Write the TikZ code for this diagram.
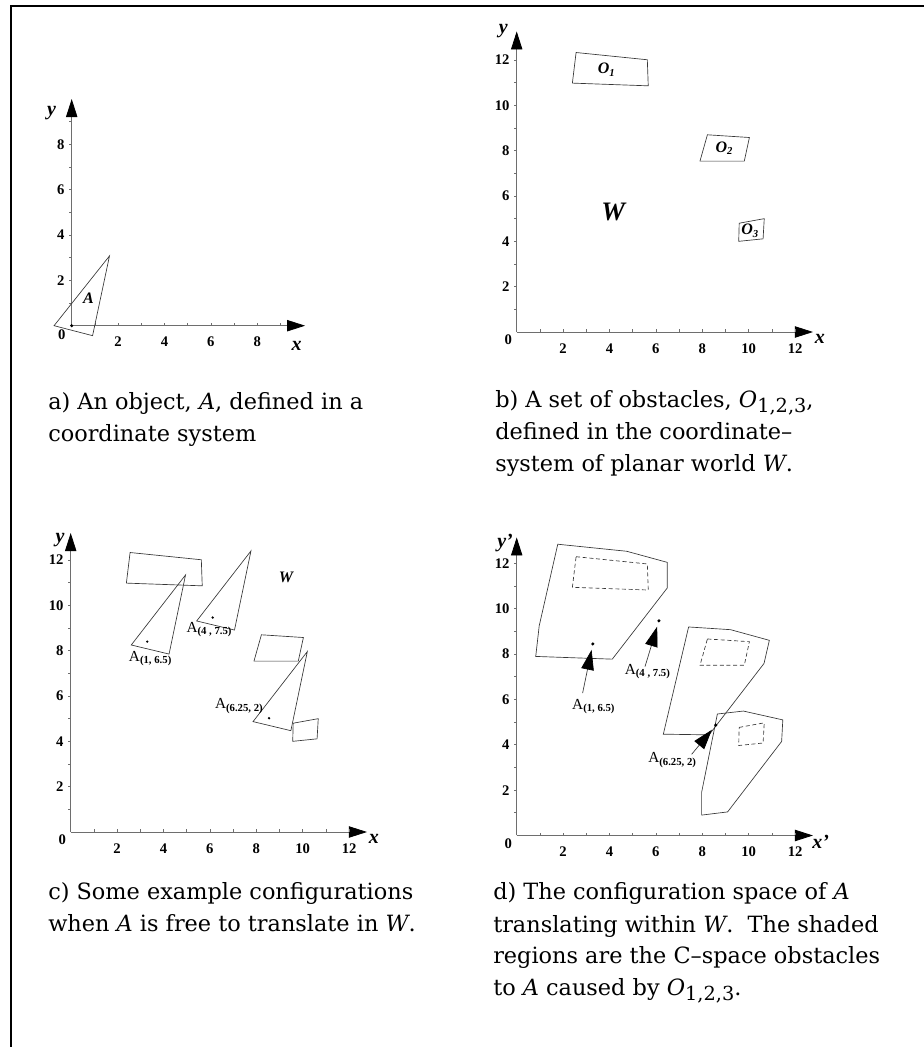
\documentclass[tikz,border=0pt]{standalone}
\usepackage{fontspec}
\setmainfont{Liberation Serif}
\newfontfamily\capfont{DejaVu Serif}
\usetikzlibrary{arrows.meta,positioning}
\definecolor{AxisGray}{RGB}{110,110,110}
\definecolor{EdgeGray}{RGB}{55,55,55}

\tikzset{
  axisarrow/.style={AxisGray,line width=0.6pt,-{Triangle[length=13.5pt,width=8.5pt,color=black]}},
  tickmark/.style={AxisGray,line width=0.5pt},
  ticklabel/.style={font=\fontsize{11}{11}\selectfont\bfseries,inner sep=0pt},
  axislabel/.style={font=\fontsize{15}{15}\selectfont\bfseries\itshape,inner sep=0pt},
  edge/.style={EdgeGray,line width=0.5pt},
  ghost/.style={EdgeGray,line width=0.5pt,dash pattern=on 3pt off 2pt},
  refdot/.style={fill=black,circle,inner sep=0pt,minimum size=2.6pt},
  obslabel/.style={font=\fontsize{12}{12}\selectfont\bfseries\itshape,inner sep=0pt},
  worldlabel/.style={font=\fontsize{20}{20}\selectfont\bfseries\itshape,inner sep=0pt},
  conflabel/.style={font=\fontsize{11.5}{11.5}\selectfont,inner sep=0pt,anchor=base west},
  pointer/.style={EdgeGray,line width=0.5pt,shorten >=3pt,-{Triangle[length=15pt,width=9.5pt,color=black]}},
  caption/.style={anchor=base west,align=left,inner sep=0pt,font=\capfont\fontsize{16.8}{24}\selectfont}
}
\newcommand{\subs}[1]{\raisebox{-0.4ex}{\fontsize{14.5}{14.5}\selectfont #1}}

\begin{document}
\begin{tikzpicture}[x=0.75pt,y=0.75pt]
\useasboundingbox (0,0) rectangle (924,1047);
\draw[line width=1.6pt] (11,-2) -- (11,1041) -- (926,1041);

% a) the object A
\begin{scope}[shift={(71.7,721.3)},x=17.4pt,y=17pt]
  \draw[axisarrow] (0,0) -- (10.06,0);
  \draw[axisarrow] (0,0) -- (0,10);
  \foreach \i in {1,...,9} {
    \draw[tickmark] (\i,0) -- ++(0,2.2pt);
    \draw[tickmark] (0,\i) -- ++(-2.2pt,0);
  }
  \foreach \i in {2,4,6,8} {
    \node[ticklabel] (a-x\i) at (\i,-0.72) {\i};
    \node[ticklabel,anchor=east] (a-y\i) at (-0.3,\i) {\i};
  }
  \node[ticklabel] (a-0) at (-0.43,-0.4) {0};
  \node[axislabel] (a-x) at (9.7,-0.9) {x};
  \node[axislabel] (a-y) at (-0.87,9.4) {y};
  \draw[edge] (-0.76,0) -- (1.63,3.08) -- (0.9,-0.44) -- cycle;
  \node[refdot] (a-ref) at (0,0) {};
  \node[obslabel] (a-A) at (0.72,1.2) {A};
\end{scope}

% b) obstacles in W
\begin{scope}[shift={(516.7,715)},x=17.4pt,y=17pt]
  \draw[axisarrow] (0,0) -- (12.77,0);
  \draw[axisarrow] (0,0) -- (0,13.26);
  \foreach \i in {1,...,12} {
    \draw[tickmark] (\i,0) -- ++(0,2.2pt);
    \draw[tickmark] (0,\i) -- ++(-2.2pt,0);
  }
  \foreach \i in {2,4,...,12} {
    \node[ticklabel] (b-x\i) at (\i,-0.72) {\i};
    \node[ticklabel,anchor=east] (b-y\i) at (-0.3,\i) {\i};
  }
  \node[ticklabel] (b-0) at (-0.36,-0.35) {0};
  \node[axislabel] (b-x) at (13.07,-0.3) {x};
  \node[axislabel] (b-y) at (-0.58,13.26) {y};
  \draw[edge] (2.56,12.33) -- (5.63,12.01) -- (5.67,10.86) -- (2.40,10.98) -- cycle;
  \draw[edge] (8.22,8.70) -- (10.03,8.58) -- (9.81,7.54) -- (7.90,7.54) -- cycle;
  \draw[edge] (9.59,4.80) -- (10.67,5.00) -- (10.62,4.11) -- (9.57,4.00) -- cycle;
  \node[obslabel] (b-o1) at (3.88,11.57) {O\textsubscript{1}};
  \node[obslabel] (b-o2) at (8.95,8.11) {O\textsubscript{2}};
  \node[obslabel] (b-o3) at (10.06,4.46) {O\textsubscript{3}};
  \node[worldlabel] (b-w) at (4.16,5.31) {W};
\end{scope}

% c) some configurations of A
\begin{scope}[shift={(70.7,215)},x=17.4pt,y=17pt]
  \draw[axisarrow] (0,0) -- (12.77,0);
  \draw[axisarrow] (0,0) -- (0,13.19);
  \foreach \i in {1,...,12} {
    \draw[tickmark] (\i,0) -- ++(0,2.2pt);
    \draw[tickmark] (0,\i) -- ++(-2.2pt,0);
  }
  \foreach \i in {2,4,...,12} {
    \node[ticklabel] (c-x\i) at (\i,-0.72) {\i};
    \node[ticklabel,anchor=east] (c-y\i) at (-0.3,\i) {\i};
  }
  \node[ticklabel] (c-0) at (-0.36,-0.35) {0};
  \node[axislabel] (c-x) at (13.07,-0.3) {x};
  \node[axislabel] (c-y) at (-0.46,12.9) {y};
  \draw[edge] (2.56,12.33) -- (5.63,12.01) -- (5.67,10.86) -- (2.40,10.98) -- cycle;
  \draw[edge] (8.22,8.70) -- (10.03,8.58) -- (9.81,7.54) -- (7.90,7.54) -- cycle;
  \draw[edge] (9.59,4.80) -- (10.67,5.00) -- (10.62,4.11) -- (9.57,4.00) -- cycle;
  \foreach \px/\py/\n in {3.30/8.40/1, 6.12/9.46/2, 8.55/5.02/3} {
    \draw[edge,shift={(\px,\py)}] (-0.69,-0.15) -- (1.65,2.94) -- (0.94,-0.55) -- cycle;
    \node[refdot,minimum size=2pt] (c-ref\n) at (\px,\py) {};
  }
  \node[conflabel] (c-A1) at (2.50,7.53) {A\textsubscript{\bfseries(1, 6.5)}};
  \node[conflabel] (c-A2) at (4.98,8.82) {A\textsubscript{\bfseries(4 , 7.5)}};
  \node[conflabel] (c-A3) at (6.21,5.43) {A\textsubscript{\bfseries(6.25, 2)}};
  \node[obslabel] (c-w) at (9.28,11.25) {W};
\end{scope}

% d) configuration space
\begin{scope}[shift={(516.7,211.5)},x=17.4pt,y=17pt]
  \draw[axisarrow] (0,0) -- (12.77,0);
  \draw[axisarrow] (0,0) -- (0,13.15);
  \foreach \i in {1,...,12} {
    \draw[tickmark] (\i,0) -- ++(0,2.2pt);
    \draw[tickmark] (0,\i) -- ++(-2.2pt,0);
  }
  \foreach \i in {2,4,...,12} {
    \node[ticklabel] (d-x\i) at (\i,-0.72) {\i};
    \node[ticklabel,anchor=east] (d-y\i) at (-0.3,\i) {\i};
  }
  \node[ticklabel] (d-0) at (-0.36,-0.35) {0};
  \node[axislabel] (d-x) at (13.1,-0.3) {x'};
  \node[axislabel] (d-y) at (-0.5,12.9) {y'};
  % C-space obstacles
  \draw[edge] (1.77,12.85) -- (4.74,12.54) -- (6.49,12.05) -- (6.49,10.92) -- (4.12,7.78) -- (0.82,7.90) -- (0.97,9.25) -- cycle;
  \draw[edge] (7.41,9.20) -- (9.22,9.08) -- (10.89,8.61) -- (10.66,7.59) -- (8.29,4.44) -- (6.32,4.47) -- cycle;
  \draw[edge] (8.65,5.36) -- (9.77,5.49) -- (11.47,5.10) -- (11.42,4.15) -- (9.09,1.04) -- (7.97,0.90) -- (7.97,1.90) -- cycle;
  % the obstacles inside them
  \draw[ghost] (2.56,12.30) -- (5.63,11.98) -- (5.67,10.83) -- (2.40,10.95) -- cycle;
  \draw[ghost] (8.22,8.67) -- (10.03,8.55) -- (9.81,7.51) -- (7.90,7.51) -- cycle;
  \draw[ghost] (9.59,4.77) -- (10.67,4.97) -- (10.62,4.08) -- (9.57,3.97) -- cycle;
  \node[refdot] (d-ref1) at (3.28,8.45) {};
  \node[refdot] (d-ref2) at (6.13,9.47) {};
  \node[refdot] (d-ref3) at (8.58,4.87) {};
  \node[conflabel] (d-A1) at (2.38,5.56) {A\textsubscript{\bfseries(1, 6.5)}};
  \node[conflabel] (d-A2) at (4.65,7.10) {A\textsubscript{\bfseries(4 , 7.5)}};
  \node[conflabel] (d-A3) at (5.66,3.20) {A\textsubscript{\bfseries(6.25, 2)}};
  \coordinate (d-tail1) at (2.84,6.28);
  \coordinate (d-tail2) at (5.53,7.45);
  \coordinate (d-tail3) at (7.54,3.58);
  \draw[pointer] (d-tail1) -- (d-ref1);
  \draw[pointer] (d-tail2) -- (d-ref2);
  \draw[pointer] (d-tail3) -- (d-ref3);
\end{scope}

% captions (anchored at the baseline of their last line)
\node[caption] (cap-a) at (48,605) {a) An object, \textit{A}, defined in a\\coordinate system};
\node[caption] (cap-b) at (495,575) {b) A set of obstacles, \textit{O}\subs{1,2,3},\\defined in the coordinate–\\system of planar world \textit{W}.};
\node[caption] (cap-c) at (48,115) {c) Some example configurations\\when \textit{A} is free to translate in \textit{W}.};
\node[caption] (cap-d) at (493,51) {d) The configuration space of \textit{A}\\translating within \textit{W}.\ \ The shaded\\regions are the C–space obstacles\\to \textit{A} caused by \textit{O}\subs{1,2,3}.};
\end{tikzpicture}
\end{document}
